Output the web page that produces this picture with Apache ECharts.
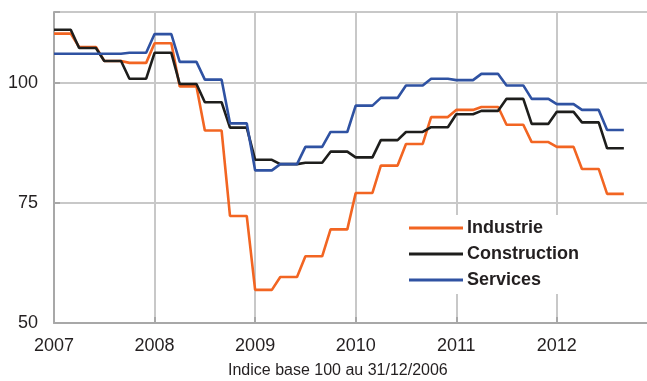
<!DOCTYPE html>
<html>
<head>
<meta charset="utf-8">
<script src="https://cdn.jsdelivr.net/npm/echarts@6/dist/echarts.min.js"></script>
<style>
  html, body { margin: 0; padding: 0; background: #fff; }
  #chart { width: 647px; height: 381px; }
</style>
</head>
<body>
<div id="chart"></div>
<script>
// Quarterly indices (base 100 at 31/12/2006), 2007 Q1 to 2012 Q3.
const quarters = [
  '2007T1','2007T2','2007T3','2007T4',
  '2008T1','2008T2','2008T3','2008T4',
  '2009T1','2009T2','2009T3','2009T4',
  '2010T1','2010T2','2010T3','2010T4',
  '2011T1','2011T2','2011T3','2011T4',
  '2012T1','2012T2','2012T3'
];
const industrie = [
  110.3, 107.5, 104.6, 104.2,
  108.3, 99.3, 90.1, 72.3,
  56.9, 59.6, 63.9, 69.5,
  77.1, 82.8, 87.3, 92.9,
  94.4, 95.0, 91.3, 87.7,
  86.7, 82.1, 76.9
];
const construction = [
  111.1, 107.3, 104.6, 100.9,
  106.3, 99.8, 96.0, 90.7,
  84.0, 83.1, 83.4, 85.7,
  84.5, 88.1, 89.8, 90.8,
  93.5, 94.2, 96.7, 91.5,
  94.0, 91.8, 86.4
];
const services = [
  106.1, 106.1, 106.1, 106.3,
  110.2, 104.4, 100.7, 91.6,
  81.8, 83.1, 86.7, 89.8,
  95.3, 96.9, 99.5, 100.9,
  100.6, 101.9, 99.5, 96.7,
  95.6, 94.4, 90.2
];
const seriesNames = ['Industrie', 'Construction', 'Services'];
const yearLabels = ['2007', '2008', '2009', '2010', '2011', '2012'];
const yTicks = [50, 75, 100];
const axisNote = 'Indice base 100 au 31/12/2006';

// Each quarterly value holds for the three months of its quarter (x in months since Jan 2007).
function monthly(values) {
  const pts = [];
  values.forEach((v, q) => {
    for (let m = 0; m < 3; m++) pts.push([q * 3 + m, v]);
  });
  return pts;
}

const colors = ['#f26522', '#1e1e1c', '#2f52a2'];
const textColor = '#231f20';
const gridColor = '#c8c8c8';
const axisColor = '#a8a8a8';

const chart = echarts.init(document.getElementById('chart'), null, { renderer: 'canvas' });

chart.setOption({
  animation: false,
  backgroundColor: '#fff',
  grid: { left: 54, width: 595, top: 12, bottom: 58, containLabel: false, outerBoundsMode: 'none' },
  xAxis: {
    type: 'value',
    min: 0,
    max: 71,
    interval: 12,
    axisLine: { show: true, lineStyle: { color: axisColor, width: 2 } },
    axisTick: { show: true, inside: true, length: 6, lineStyle: { color: axisColor, width: 2 } },
    splitLine: { show: true, lineStyle: { color: gridColor, width: 2 } },
    axisLabel: {
      margin: 14,
      color: textColor,
      fontFamily: 'Liberation Sans, Arial, sans-serif',
      fontSize: 18,
      formatter: v => (v % 12 === 0 ? yearLabels[v / 12] : '')
    }
  },
  yAxis: {
    type: 'value',
    min: 50,
    max: 114.8,
    interval: 25,
    axisLine: { show: true, lineStyle: { color: axisColor, width: 2 } },
    axisTick: { show: true, inside: true, length: 6, lineStyle: { color: axisColor, width: 2 } },
    splitLine: { show: true, lineStyle: { color: gridColor, width: 2 } },
    axisLabel: {
      margin: 16,
      color: textColor,
      fontFamily: 'Liberation Sans, Arial, sans-serif',
      fontSize: 18,
      formatter: v => (yTicks.indexOf(v) >= 0 ? String(v) : '')
    }
  },
  legend: {
    orient: 'vertical',
    left: 407,
    top: 215,
    padding: [4, 6, 5, 2],
    backgroundColor: '#fff',
    itemWidth: 54,
    itemHeight: 3,
    itemGap: 8,
    icon: 'rect',
    data: seriesNames,
    textStyle: {
      color: textColor,
      fontFamily: 'Liberation Sans, Arial, sans-serif',
      fontSize: 18,
      fontWeight: 'bold',
      padding: [0, 0, 0, -1]
    }
  },
  graphic: [{
    type: 'text',
    left: 228,
    top: 363,
    style: {
      text: axisNote,
      fill: textColor,
      font: '16px "Liberation Sans", Arial, sans-serif'
    }
  }],
  series: [industrie, construction, services].map((vals, i) => ({
    name: seriesNames[i],
    type: 'line',
    data: monthly(vals),
    symbol: 'none',
    color: colors[i],
    lineStyle: { color: colors[i], width: 2.6 },
    z: 2 + i
  }))
});
</script>
</body>
</html>
